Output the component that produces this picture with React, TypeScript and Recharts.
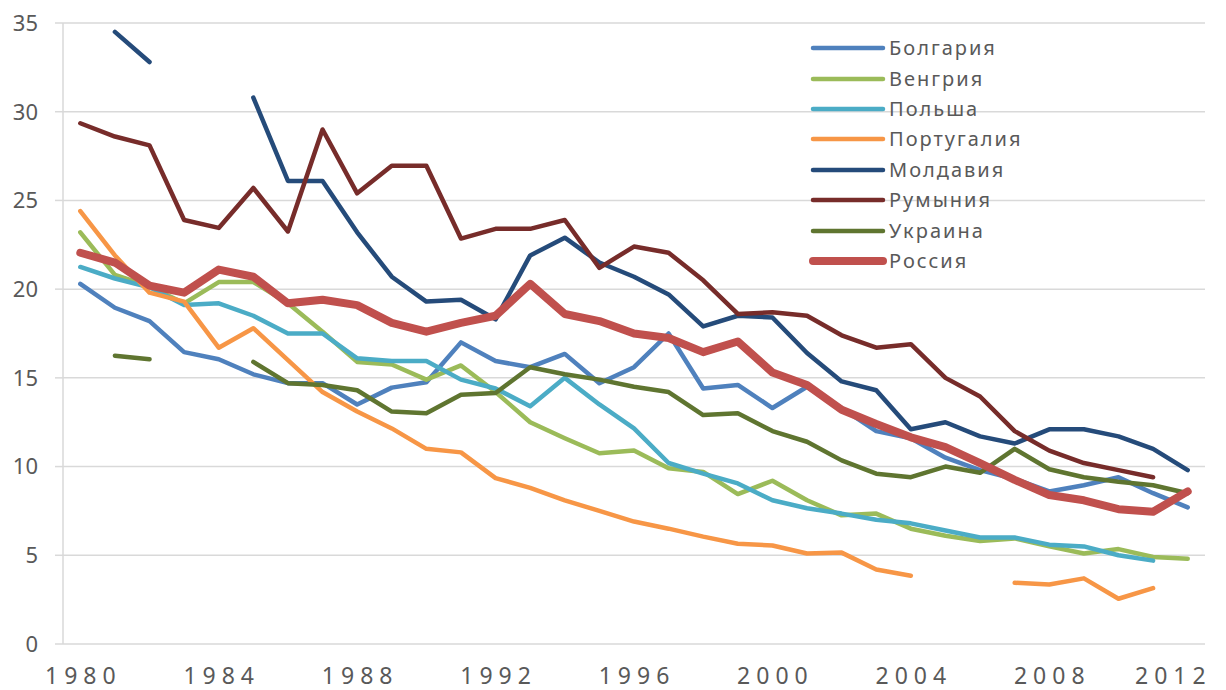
import React from "react";
import { LineChart, Line, XAxis, YAxis, CartesianGrid, Legend } from "recharts";

const years = [1980, 1981, 1982, 1983, 1984, 1985, 1986, 1987, 1988, 1989, 1990, 1991, 1992, 1993, 1994, 1995, 1996, 1997, 1998, 1999, 2000, 2001, 2002, 2003, 2004, 2005, 2006, 2007, 2008, 2009, 2010, 2011, 2012];

const bulgaria = [20.3, 18.95, 18.2, 16.45, 16.05, 15.2, 14.7, 14.7, 13.5, 14.45, 14.75, 17.0, 15.95, 15.6, 16.35, 14.7, 15.6, 17.5, 14.4, 14.6, 13.3, 14.5, 13.3, 12.0, 11.6, 10.5, 9.8, 9.3, 8.6, 8.95, 9.4, 8.5, 7.7];
const hungary = [23.2, 20.8, 20.15, 19.2, 20.4, 20.4, 19.2, 17.6, 15.9, 15.75, 14.9, 15.7, 14.2, 12.5, 11.6, 10.75, 10.9, 9.9, 9.7, 8.45, 9.2, 8.1, 7.25, 7.35, 6.5, 6.1, 5.8, 5.95, 5.5, 5.1, 5.35, 4.9, 4.8];
const poland = [21.25, 20.6, 20.1, 19.1, 19.2, 18.5, 17.5, 17.5, 16.1, 15.95, 15.95, 14.9, 14.4, 13.4, 15.0, 13.5, 12.15, 10.2, 9.6, 9.05, 8.1, 7.65, 7.35, 7.0, 6.8, 6.4, 6.0, 6.0, 5.6, 5.5, 5.0, 4.7, null];
const portugal = [24.4, 21.9, 19.8, 19.3, 16.7, 17.8, 16.0, 14.2, 13.1, 12.15, 11.0, 10.8, 9.35, 8.8, 8.1, 7.5, 6.9, 6.5, 6.05, 5.65, 5.55, 5.1, 5.15, 4.2, 3.85, null, null, 3.45, 3.35, 3.7, 2.55, 3.15, null];
const moldova = [null, 34.5, 32.8, null, null, 30.8, 26.1, 26.1, 23.2, 20.7, 19.3, 19.4, 18.3, 21.9, 22.9, 21.5, 20.7, 19.7, 17.9, 18.5, 18.4, 16.4, 14.8, 14.3, 12.1, 12.5, 11.7, 11.3, 12.1, 12.1, 11.7, 11.0, 9.8];
const romania = [29.35, 28.6, 28.1, 23.9, 23.45, 25.7, 23.25, 29.0, 25.4, 26.95, 26.95, 22.85, 23.4, 23.4, 23.9, 21.2, 22.4, 22.05, 20.5, 18.6, 18.7, 18.5, 17.4, 16.7, 16.9, 15.0, 13.95, 12.0, 10.9, 10.2, 9.8, 9.4, null];
const ukraine = [null, 16.25, 16.05, null, null, 15.9, 14.7, 14.6, 14.3, 13.1, 13.0, 14.05, 14.15, 15.6, 15.2, 14.9, 14.5, 14.2, 12.9, 13.0, 12.0, 11.4, 10.35, 9.6, 9.4, 10.0, 9.65, 11.0, 9.85, 9.4, 9.15, 8.95, 8.5];
const russia = [22.05, 21.5, 20.2, 19.8, 21.1, 20.7, 19.2, 19.4, 19.1, 18.1, 17.6, 18.1, 18.5, 20.3, 18.6, 18.2, 17.5, 17.25, 16.45, 17.05, 15.3, 14.6, 13.2, 12.4, 11.65, 11.1, 10.2, 9.25, 8.4, 8.1, 7.6, 7.45, 8.6];

const xLabelTicks = [1980, 1984, 1988, 1992, 1996, 2000, 2004, 2008, 2012];
const xBoundaryTicks = [1979.5, 1983.5, 1987.5, 1991.5, 1995.5, 1999.5, 2003.5, 2007.5, 2011.5];
const yTicks = [0, 5, 10, 15, 20, 25, 30, 35];

const series = [
  { key: "bg", name: "Болгария", values: bulgaria, color: "#4f81bd", width: 4.5 },
  { key: "hu", name: "Венгрия", values: hungary, color: "#9bbb59", width: 4.5 },
  { key: "pl", name: "Польша", values: poland, color: "#4bacc6", width: 4.5 },
  { key: "pt", name: "Португалия", values: portugal, color: "#f79646", width: 4.5 },
  { key: "md", name: "Молдавия", values: moldova, color: "#254b7a", width: 4.5 },
  { key: "ro", name: "Румыния", values: romania, color: "#772c2a", width: 4.5 },
  { key: "ua", name: "Украина", values: ukraine, color: "#5f7530", width: 4.5 },
  { key: "ru", name: "Россия", values: russia, color: "#c0504d", width: 8 },
];

const data = years.map((year, i) => {
  const row: Record<string, number | null> = { year };
  series.forEach((s) => {
    row[s.key] = s.values[i];
  });
  return row;
});

const FONT = "'Noto Sans', 'DejaVu Sans', sans-serif";
const TEXT = "#595959";
const GRID = "#d9d9d9";

const lastLabel = xLabelTicks[xLabelTicks.length - 1];

const XTick = (props: any) => {
  const { x, y, payload } = props;
  const isLast = payload.value === lastLabel;
  return (
    <text
      x={x}
      y={y}
      dy="0.71em"
      dx={isLast ? 24 : 3}
      textAnchor={isLast ? "end" : "middle"}
      fill={TEXT}
      fontSize={23}
      fontFamily={FONT}
      letterSpacing={6}
    >
      {payload.value}
    </text>
  );
};

const LegendBox = () => (
  <div style={{ fontFamily: FONT }}>
    {series.map((s) => (
      <div key={s.key} style={{ display: "flex", alignItems: "center", height: 30.4 }}>
        <svg width={81} height={14} style={{ flex: "none" }}>
          <line x1={5} y1={7} x2={75} y2={7} stroke={s.color} strokeWidth={s.width} strokeLinecap="round" />
        </svg>
        <span style={{ fontSize: 20, color: TEXT, letterSpacing: 2, lineHeight: "20px" }}>{s.name}</span>
      </div>
    ))}
  </div>
);

export default function App() {
  return (
    <LineChart
      width={1218}
      height={682}
      data={data}
      margin={{ top: 15, right: 21, left: 0, bottom: 0 }}
    >
      <CartesianGrid horizontal={true} vertical={false} stroke={GRID} strokeWidth={1.5} />
      <XAxis
        xAxisId="bounds"
        dataKey="year"
        type="number"
        domain={[1979.5, 2012.5]}
        ticks={xBoundaryTicks}
        interval={0}
        height={0}
        tickSize={9}
        tickFormatter={() => ""}
        axisLine={{ stroke: GRID, strokeWidth: 1.5 }}
        tickLine={{ stroke: GRID, strokeWidth: 1.5 }}
      />
      <XAxis
        xAxisId="labels"
        dataKey="year"
        type="number"
        domain={[1979.5, 2012.5]}
        ticks={xLabelTicks}
        interval={0}
        height={46}
        tickSize={0}
        tickMargin={24}
        axisLine={false}
        tickLine={false}
        tick={<XTick />}
      />
      <YAxis
        domain={[0, 35]}
        ticks={yTicks}
        interval={0}
        width={55}
        tickSize={8}
        tickMargin={17}
        axisLine={{ stroke: GRID, strokeWidth: 1.5 }}
        tickLine={{ stroke: GRID, strokeWidth: 1.5 }}
        tick={{ fill: TEXT, fontSize: 22, fontFamily: FONT }}
      />
      <Legend
        layout="vertical"
        align="center"
        verticalAlign="middle"
        content={() => <LegendBox />}
        wrapperStyle={{ left: 800, top: 25, width: 260, position: "absolute" }}
      />
      {series.map((s) => (
        <Line
          key={s.key}
          xAxisId="labels"
          dataKey={s.key}
          name={s.name}
          stroke={s.color}
          strokeWidth={s.width}
          strokeLinejoin="round"
          strokeLinecap="round"
          dot={false}
          activeDot={false}
          isAnimationActive={false}
          connectNulls={false}
        />
      ))}
    </LineChart>
  );
}
